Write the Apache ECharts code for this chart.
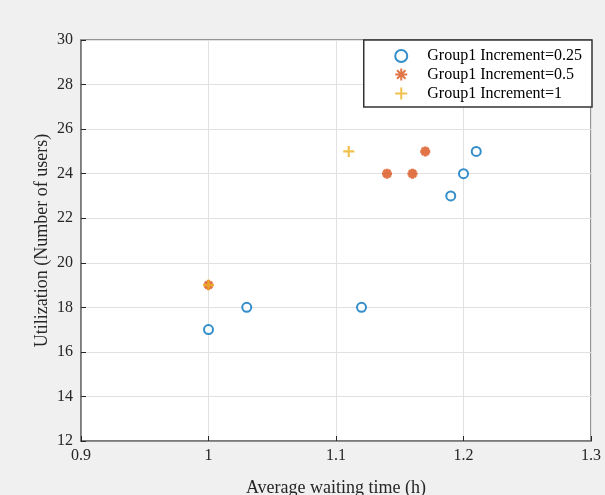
<!DOCTYPE html>
<html>
<head>
<meta charset="utf-8">
<script src="https://cdn.jsdelivr.net/npm/echarts@6/dist/echarts.min.js"></script>
<style>
  html, body { margin: 0; padding: 0; background: #f0f0f0; }
  #main { width: 605px; height: 495px; }
</style>
</head>
<body>
<div id="main"></div>
<script>
  // data
  var seriesNames = ['Group1 Increment=0.25', 'Group1 Increment=0.5', 'Group1 Increment=1'];
  var inc025 = [[1.00, 17], [1.03, 18], [1.12, 18], [1.19, 23], [1.20, 24], [1.21, 25]];
  var inc05 = [[1.00, 19], [1.14, 24], [1.16, 24], [1.17, 25]];
  var inc1 = [[1.00, 19], [1.11, 25]];
  var xTicks = [0.9, 1, 1.1, 1.2, 1.3];
  var yTicks = [12, 14, 16, 18, 20, 22, 24, 26, 28, 30];

  var asterisk = 'path://M5 0 L5 10 M0 5 L10 5 M1.5 1.5 L8.5 8.5 M1.5 8.5 L8.5 1.5';
  var plus = 'path://M5 0 L5 10 M0 5 L10 5';

  var chart = echarts.init(document.getElementById('main'));
  var font = 'Liberation Serif';
  var axisGray = '#737373';

  chart.setOption({
    backgroundColor: '#f0f0f0',
    animation: false,
    textStyle: { fontFamily: font },
    grid: {
      left: 81, right: 14, top: 40, bottom: 54,
      outerBoundsMode: 'none',
      containLabel: false,
      show: true, backgroundColor: '#ffffff', borderColor: axisGray, borderWidth: 1.5
    },
    legend: {
      orient: 'vertical',
      right: 13, top: 40,
      backgroundColor: '#ffffff',
      borderColor: '#333333', borderWidth: 1.5,
      padding: [8, 10, 5, 29],
      itemGap: 2,
      itemWidth: 12, itemHeight: 12,
      textStyle: { fontFamily: font, fontSize: 16, color: '#000', padding: [0, 0, 0, 15] },
      data: seriesNames
    },
    xAxis: {
      type: 'value',
      min: xTicks[0], max: xTicks[xTicks.length - 1], interval: 0.1,
      name: 'Average waiting time (h)',
      nameLocation: 'middle', nameGap: 38,
      nameMoveOverlap: false,
      nameTextStyle: { fontFamily: font, fontSize: 18, color: '#262626' },
      axisLine: { lineStyle: { color: axisGray, width: 1.5 } },
      axisTick: { inside: true, length: 5, lineStyle: { color: '#262626' } },
      axisLabel: { fontFamily: font, fontSize: 16, color: '#262626', margin: 7,
        formatter: function (v) { return String(Math.round(v * 10) / 10); } },
      splitLine: { show: true, lineStyle: { color: '#e1e1e1' } }
    },
    yAxis: {
      type: 'value',
      min: yTicks[0], max: yTicks[yTicks.length - 1], interval: 2,
      name: 'Utilization (Number of users)',
      nameLocation: 'middle', nameGap: 30,
      nameMoveOverlap: false,
      nameTextStyle: { fontFamily: font, fontSize: 18, color: '#262626' },
      axisLine: { lineStyle: { color: axisGray, width: 1.5 } },
      axisTick: { inside: true, length: 5, lineStyle: { color: '#262626' } },
      axisLabel: { fontFamily: font, fontSize: 16, color: '#262626', margin: 8 },
      splitLine: { show: true, lineStyle: { color: '#e1e1e1' } }
    },
    series: [
      {
        name: seriesNames[0], type: 'scatter', data: inc025,
        symbol: 'emptyCircle', symbolSize: 9,
        itemStyle: { color: '#0072bd', borderColor: '#0072bd', borderWidth: 3 }
      },
      {
        name: seriesNames[1], type: 'scatter', data: inc05,
        symbol: asterisk, symbolSize: 10,
        itemStyle: { color: 'none', borderColor: '#d95319', borderWidth: 3 }
      },
      {
        name: seriesNames[2], type: 'scatter', data: inc1,
        symbol: plus, symbolSize: 11,
        itemStyle: { color: 'none', borderColor: '#edb120', borderWidth: 2.2 }
      }
    ]
  });
</script>
</body>
</html>
